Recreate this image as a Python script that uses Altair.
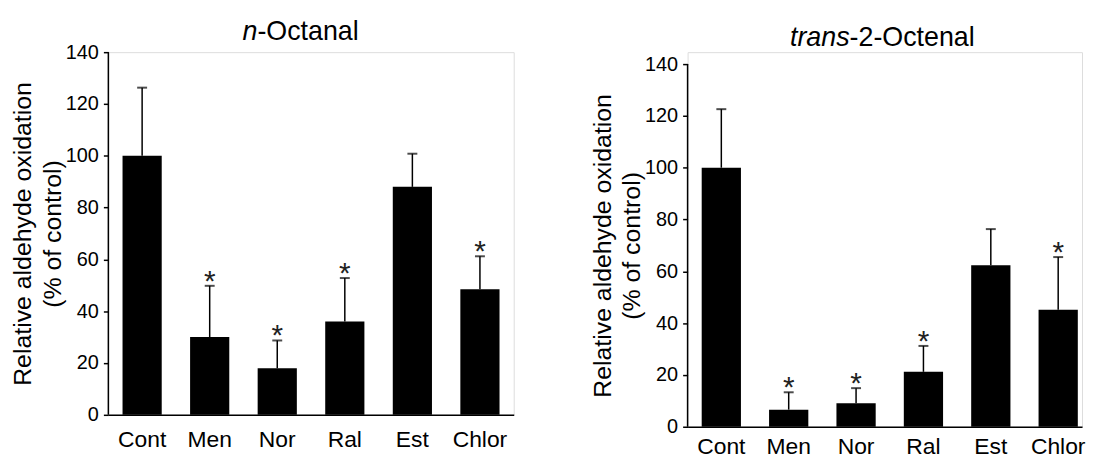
import altair as alt
import pandas as pd

FONT = "Liberation Sans"

categories = ["Cont", "Men", "Nor", "Ral", "Est", "Chlor"]

octanal_mean = [100, 30, 18, 36, 88, 48.5]
octanal_upper = [126.3, 49.8, 28.7, 52.8, 100.8, 61.2]
octanal_sig = [False, True, True, True, False, True]

octenal_mean = [100, 6.6, 9.1, 21.2, 62.3, 45.2]
octenal_upper = [122.6, 13.3, 14.9, 31.2, 76.3, 65.5]
octenal_sig = [False, True, True, True, False, True]

y_ticks = [0, 20, 40, 60, 80, 100, 120, 140]
y_title = ["Relative aldehyde oxidation", "(% of control)"]


def panel(means, uppers, sig, t_italic, t_rest, junction, title_y, width, height, ymax,
          xscale, label_pad):
    df = pd.DataFrame({
        "cat": categories,
        "mean": means,
        "upper": uppers,
        "sig": ["*" if s else "" for s in sig],
    })
    top_gap = height - height * 140 / ymax
    xs = alt.X(
        "cat:N", sort=categories,
        scale=xscale,
        axis=alt.Axis(title=None, labelAngle=0, ticks=False, tickSize=0, labelPadding=label_pad,
                      labelFontSize=23, labelFont=FONT, labelColor="black",
                      domainColor="black", domainWidth=1.5, grid=False),
    )
    yaxis = alt.Axis(values=y_ticks, title=y_title, grid=False, domain=False,
                     tickSize=5, tickColor="black",
                     tickWidth=1.5, labelPadding=5, labelFontSize=20, labelFont=FONT,
                     labelColor="black",
                     titleFont=FONT, titleFontSize=25, titleFontWeight="normal",
                     titleColor="black", titleLineHeight=30, titleX=-86,
                     titleY=(top_gap + height) / 2,
                     titleBaseline="middle", titleAlign="center", titleAngle=270)
    yscale = alt.Scale(domain=[0, ymax], nice=False)
    base = alt.Chart(df)
    bars = base.mark_bar(color="black").encode(
        x=xs, y=alt.Y("mean:Q", scale=yscale, axis=yaxis))
    err = base.mark_rule(color="black", strokeWidth=1.5).encode(
        x=xs, y=alt.Y("mean:Q", scale=yscale, axis=yaxis), y2="upper:Q")
    caps = base.mark_tick(color="black", orient="horizontal", size=10, thickness=2).encode(
        x=xs, y=alt.Y("upper:Q", scale=yscale, axis=yaxis))
    stars = base.transform_filter("datum.sig == '*'").mark_text(
        fontSize=30, dy=5, baseline="alphabetic", align="center", color="#222", font=FONT
    ).encode(x=xs, y=alt.Y("upper:Q", scale=yscale, axis=yaxis), text="sig:N")

    tdf = pd.DataFrame({"it": [t_italic], "rest": [t_rest], "dot": ["."],
                        "y0": [0], "y1": [140]})
    tbase = alt.Chart(tdf)
    yline = tbase.mark_rule(color="black", strokeWidth=1.5).encode(
        x=alt.value(0), y=alt.Y("y0:Q", scale=yscale, axis=yaxis), y2="y1:Q")
    t1 = tbase.mark_text(fontSize=27, font=FONT, fontStyle="italic", align="right",
                         baseline="middle", color="black").encode(
        x=alt.value(junction), y=alt.value(title_y), text="it:N")
    t2 = tbase.mark_text(fontSize=27, font=FONT, align="left", baseline="middle",
                         color="black").encode(
        x=alt.value(junction), y=alt.value(title_y), text="rest:N")
    marker = tbase.mark_text(fontSize=10, font=FONT, align="left", baseline="top",
                             opacity=0).encode(
        x=alt.value(-100), y=alt.value(-34), text="dot:N")
    return alt.layer(bars, err, caps, stars, yline, t1, t2, marker).properties(
        width=width, height=height)


left = panel(octanal_mean, octanal_upper, octanal_sig, "n", "-Octanal",
             150, -20, 408, 365, 140,
             alt.Scale(paddingInner=0.42, paddingOuter=0.21), 14)
right = panel(octenal_mean, octenal_upper, octenal_sig, "trans", "-2-Octenal",
              163, -14, 397, 377, 140 * 377 / 365,
              alt.Scale(paddingInner=0.4174, paddingOuter=0.136, align=0.77), 9)

chart = alt.hconcat(left, right, spacing=73).properties(
    padding={"left": 0, "top": 8, "right": 0, "bottom": -4}
).configure_view(stroke=None).configure(background="white")

chart.save("out.html", embed_options={"renderer": "svg", "actions": False})
